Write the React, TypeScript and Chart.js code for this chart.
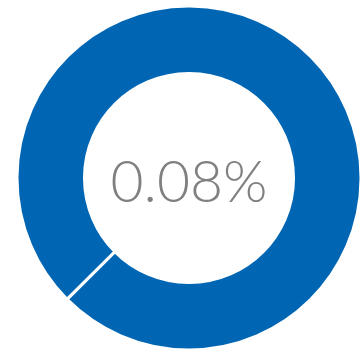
import React, { useEffect, useRef } from "react";
import { Chart, registerables } from "chart.js";

Chart.register(...registerables);

const labels = ["Value", "Remainder"];
const values = [0.08, 99.92];
const centerLabel = "0.08%";

export default function App() {
  const ref = useRef<HTMLCanvasElement>(null);
  useEffect(() => {
    if (!ref.current) return;
    const centerText = {
      id: "centerText",
      afterDraw(chart: any) {
        const { ctx } = chart;
        const meta = chart.getDatasetMeta(0);
        const arc = meta.data[0];
        const x = arc.x;
        const y = arc.y;
        ctx.save();
        ctx.font = "300 57px Lato, 'Open Sans', sans-serif";
        ctx.fillStyle = "#808080";
        ctx.textAlign = "center";
        ctx.textBaseline = "middle";
        ctx.fillText(centerLabel, x, y + 6);
        ctx.restore();
      },
    };
    const chart = new Chart(ref.current, {
      type: "doughnut",
      data: {
        labels,
        datasets: [
          {
            data: values,
            backgroundColor: ["#0066b3", "#0066b3"],
            borderColor: "#ffffff",
            borderWidth: 2.5,
          },
        ],
      },
      options: {
        responsive: false,
        animation: false,
        rotation: 225,
        cutout: "61%",
        layout: { padding: 0 },
        plugins: {
          legend: { display: false },
          tooltip: { enabled: false },
        },
      },
      plugins: [centerText],
    });
    return () => chart.destroy();
  }, []);
  return (
    <div style={{ position: "absolute", left: 16, top: 5, width: 346, height: 346 }}>
      <canvas ref={ref} width={346} height={346} />
    </div>
  );
}
